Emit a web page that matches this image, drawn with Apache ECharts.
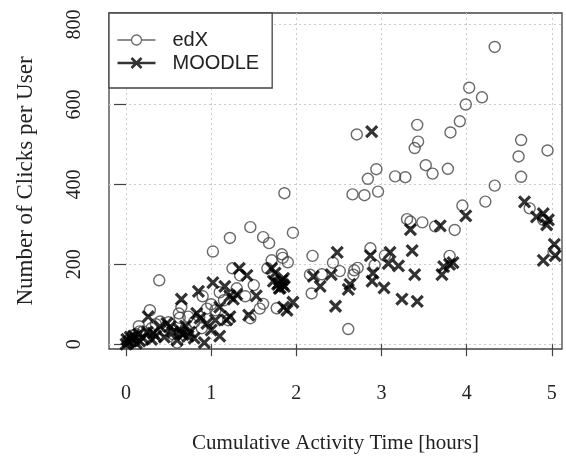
<!DOCTYPE html>
<html><head><meta charset="utf-8">
<script src="https://cdn.jsdelivr.net/npm/echarts@6/dist/echarts.min.js"></script>
<style>html,body{margin:0;padding:0;background:#fff}#c{width:566px;height:459px}</style>
</head><body><div id="c"></div>
<script>
const xTicks = [0, 1, 2, 3, 4, 5];
const yTicks = [0, 200, 400, 600, 800];
const seriesNames = ['edX', 'MOODLE'];

// [hours, clicks]
const edxPoints = [
  [4.33,744],[4.03,642],[4.18,618],[3.99,600],[3.92,558],[3.81,530],[3.42,549],[3.43,507],
  [3.39,491],[2.71,525],[4.64,511],[4.61,470],[4.95,485],[4.64,419],[4.33,397],[3.52,448],
  [3.60,427],[3.78,439],[2.94,438],[2.84,414],[3.16,420],[3.28,418],[2.66,375],[2.80,373],
  [2.96,382],[4.22,357],[3.95,347],[4.74,340],[3.30,313],[3.34,307],[3.48,305],[3.63,295],
  [3.86,286],[2.87,240],[3.04,222],[2.43,204],[2.51,183],[2.68,185],[2.72,191],[2.67,174],
  [3.80,221],[2.61,38],[5.02,232],[4.90,311],[2.92,198],
  [1.86,378],[1.46,293],[1.22,266],[1.61,268],[1.68,253],[1.96,279],[1.02,232],[0.39,160],
  [2.19,221],[1.83,225],[1.84,216],[1.71,210],[1.66,190],[1.25,190],[1.34,172],[1.50,148],
  [1.61,101],[1.57,89],[1.77,90],[2.16,174],[2.18,127],[0.28,85],[0.40,57],[0.63,66],
  [0.65,93],[0.95,89],[0.73,69],[0.86,69],[0.62,77],[0.24,12],[0.20,32],[0.16,32],
  [0.60,4],[0.89,40],[1.46,65],
  [0.02,5],[0.05,15],[0.10,8],[0.12,25],[0.30,40],[0.35,50],[0.45,35],[0.50,55],
  [0.55,25],[0.70,40],[0.80,55],[1.00,100],[1.05,85],[1.10,130],[1.15,110],[1.30,140],
  [1.40,120],[0.90,120],[1.20,60],[1.90,205],[2.30,175],[0.15,45],[0.08,22]
];

const moodlePoints = [
  [1.33,190],[1.42,172],[0.85,132],[0.65,113],[1.02,154],[1.16,145],[1.22,121],[1.26,113],
  [1.30,125],[1.53,121],[1.71,190],[1.78,150],[1.83,160],[1.80,140],[1.86,145],[1.75,178],
  [1.85,165],[1.81,141],[1.73,158],[1.96,105],[1.85,93],[1.89,85],[1.44,73],[1.10,20],
  [0.92,4],[0.26,69],[0.83,77],[0.87,65],[0.95,52],[0.65,28],[0.73,20],[1.18,61],
  [1.22,69],[1.10,93],[0.52,44],[2.48,230],[2.20,170],[2.28,145],[2.41,174],[2.46,95],
  [4.68,356],[4.82,319],[4.90,327],[4.94,299],[4.96,311],[4.90,210],[5.03,250],[5.04,222],
  [3.99,321],[3.69,296],[3.34,287],[3.36,234],[3.39,174],[3.10,230],[3.08,202],[3.20,196],
  [3.03,141],[2.87,222],[2.90,178],[2.89,158],[3.24,113],[3.42,107],[3.73,194],[3.71,174],
  [3.80,200],[3.84,204],[2.63,150],[2.61,137],[2.885,532],
  [0.63,36],[0.67,24],[0.01,12],[0.09,20],[0.16,8],[0.32,28],[0.40,44],[0.48,52],
  [0.00,0],[0.03,5],[0.05,18],[0.08,10],[0.12,3],[0.15,25],[0.20,15],[0.25,30],
  [0.30,12],[0.35,20],[0.45,18],[0.55,30],[0.60,10],[0.70,45],[0.75,30],[0.80,15],
  [1.00,35],[1.05,60],[1.79,152],[1.84,150]
];

const serif = 'Liberation Serif';
const sans = 'Liberation Sans';
const chart = echarts.init(document.getElementById('c'), null, {renderer: 'canvas'});
chart.setOption({
  animation: false,
  backgroundColor: '#fff',
  grid: {left: 109, top: 13, right: 4, bottom: 99, show: true, borderColor: '#444', borderWidth: 1.3, backgroundColor: 'transparent'},
  legend: {
    left: 109, top: 13, orient: 'vertical',
    padding: [17, 13, 15, 6], itemGap: 3,
    itemWidth: 38, itemHeight: 12,
    backgroundColor: '#fff', borderColor: '#444', borderWidth: 1.3, borderRadius: 0,
    textStyle: {fontFamily: sans, fontSize: 20, color: '#222', padding: [0, 0, 0, 12]},
    data: [
      {name: seriesNames[0], icon: 'path://M0,6 L14,6 M24,6 L38,6 M24,6 A5,5 0 1 1 14,6 A5,5 0 1 1 24,6',
       itemStyle: {color: 'none', borderColor: '#444', borderWidth: 1.3}},
      {name: seriesNames[1], icon: 'path://M0,6 L38,6 M14,1 L24,11 M24,1 L14,11',
       itemStyle: {color: 'none', borderColor: '#000', borderWidth: 2.6}}
    ]
  },
  xAxis: {
    type: 'value', min: -0.2, max: 5.12,
    name: 'Cumulative Activity Time [hours]', nameLocation: 'middle', nameGap: 84,
    nameTextStyle: {fontFamily: serif, fontSize: 21, color: '#222'},
    axisLine: {show: false},
    axisTick: {show: true, customValues: xTicks, length: 12, lineStyle: {color: '#444', width: 1.2}},
    axisLabel: {customValues: xTicks, margin: 35, fontFamily: serif, fontSize: 20, color: '#222'},
    splitLine: {show: true, lineStyle: {type: [2, 3], color: '#cccccc', width: 1}}
  },
  yAxis: {
    type: 'value', min: -12, max: 829,
    name: 'Number of Clicks per User', nameLocation: 'middle', nameGap: 72, nameRotate: 90,
    nameTextStyle: {fontFamily: serif, fontSize: 23, color: '#222'},
    axisLine: {show: false},
    axisTick: {show: true, customValues: yTicks, length: 12, lineStyle: {color: '#444', width: 1.2}},
    axisLabel: {customValues: yTicks, rotate: 90, margin: 24, fontFamily: serif, fontSize: 20, color: '#222'},
    splitLine: {show: true, lineStyle: {type: [2, 3], color: '#cccccc', width: 1}}
  },
  series: [
    {name: seriesNames[0], type: 'scatter', data: edxPoints, symbol: 'circle', symbolSize: 11,
     itemStyle: {color: 'none', borderColor: '#444', borderWidth: 1.4}},
    {name: seriesNames[1], type: 'scatter', data: moodlePoints,
     symbol: 'path://M0,0 L10,10 M10,0 L0,10', symbolSize: 11,
     itemStyle: {color: 'none', borderColor: '#000', borderWidth: 3.2}}
  ]
});
</script></body></html>
